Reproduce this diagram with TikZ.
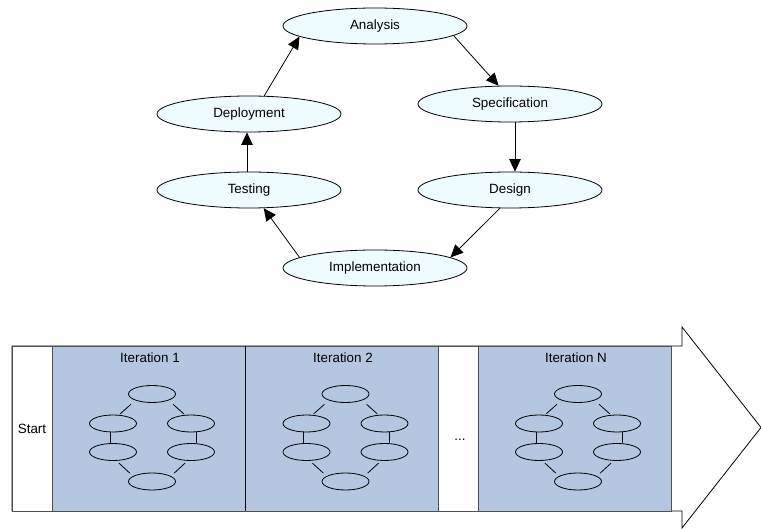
\documentclass[tikz,border=0pt]{standalone}
\usepackage{fontspec}
\setmainfont{Liberation Sans}
\usetikzlibrary{arrows.meta,shapes.geometric,calc}
\definecolor{phasefill}{RGB}{238,252,255}
\definecolor{iterfill}{RGB}{180,198,224}
\definecolor{boxline}{RGB}{80,80,80}
\begin{document}
\begin{tikzpicture}[x=1pt,y=-1pt,
  txt/.style={font=\fontsize{13.4}{16}\selectfont},
  phase/.style={txt,ellipse,draw=black,line width=0.8pt,fill=phasefill,
    minimum width=184pt,minimum height=36pt,inner sep=0pt},
  flow/.style={draw=black,line width=0.8pt,-{Triangle[length=12.5pt,width=11.5pt]}},
  bigarrow/.style={draw=black,line width=0.8pt,fill=white,line join=miter},
  lane/.style={draw=boxline,line width=0.9pt,minimum height=165pt,inner sep=0pt},
  iterbox/.style={lane,fill=iterfill,minimum width=193pt},
  plainbox/.style={lane,fill=white,minimum width=40pt},
  mini/.style={ellipse,draw=black,line width=0.8pt,minimum width=47pt,
    minimum height=17pt,inner sep=0pt},
  minilink/.style={draw=black,line width=0.8pt}
]
\useasboundingbox (0,0) rectangle (761,529);

% ---- development cycle ----
\node[phase] (ana)  at (375,26)  {Analysis};
\node[phase] (spec) at (510,104) {Specification};
\node[phase] (des)  at (510,190) {Design};
\node[phase] (impl) at (375,268) {Implementation};
\node[phase] (test) at (249,190) {Testing};
\node[phase] (dep)  at (249,114) {Deployment};

\draw[flow] (ana.-7)   -- (spec.122);
\draw[flow] ([xshift=5pt]spec.south) -- ([xshift=5pt]des.north);
\draw[flow] (des.-119) -- (impl.8);
\draw[flow] (impl.172) -- (test.-51);
\draw[flow] ([xshift=-2pt]test.north) -- ([xshift=-2pt]dep.south);
\draw[flow] (dep.50)   -- (ana.188);

% ---- iterations along a time arrow ----
\draw[bigarrow] (12,346) -- (682,346) -- (682,327) -- (761,427.5)
  -- (682,528) -- (682,511) -- (12,511) -- cycle;

\node[plainbox,txt] (start) at (32,428.5) {Start};
\node[iterbox] (it1) at (148.5,428.5) {};
\node[iterbox] (it2) at (341.5,428.5) {};
\node[plainbox] (gap) at (458,428.5) {};
\node[iterbox] (itN) at (574.5,428.5) {};
\draw[black,line width=1.6pt] (it1.north east) -- (it1.south east);

\node[txt] (it1t) at (150,358) {Iteration 1};
\node[txt] (it2t) at (343,358) {Iteration 2};
\node[txt] (itNt) at (576,358) {Iteration N};
\node[txt,anchor=base] (dots) at (460,441) {...};

% a small cycle of phases inside each iteration
\foreach \k/\tx in {1/152,2/345.5,N/578}{
  \node[mini] (t\k)  at (\tx,394) {};
  \node[mini] (l\k)  at (\tx-39,423.5) {};
  \node[mini] (r\k)  at (\tx+39,423.5) {};
  \node[mini] (ll\k) at (\tx-39,452) {};
  \node[mini] (lr\k) at (\tx+39,452) {};
  \node[mini] (b\k)  at (\tx,481.5) {};
  \draw[minilink,shorten <=6pt,shorten >=1.5pt] (t\k.201) -- (l\k.55);
  \draw[minilink,shorten <=6pt,shorten >=1.5pt] (t\k.-21) -- (r\k.125);
  \draw[minilink] ([xshift=-3pt]l\k.south) -- ([xshift=-3pt]ll\k.north);
  \draw[minilink] ([xshift=5pt]r\k.south) -- ([xshift=5pt]lr\k.north);
  \draw[minilink,shorten <=3.5pt,shorten >=4.5pt] (ll\k.-69) -- (b\k.164);
  \draw[minilink,shorten <=3.5pt,shorten >=4.5pt] (lr\k.-111) -- (b\k.16);
}
\end{tikzpicture}
\end{document}
